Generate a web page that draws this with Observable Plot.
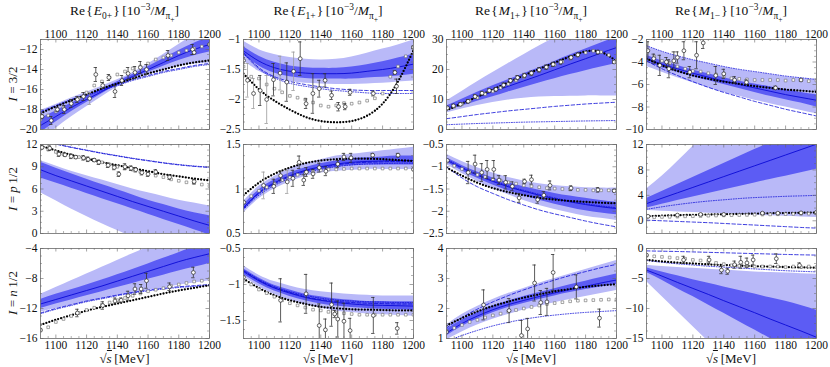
<!DOCTYPE html>
<html><head><meta charset="utf-8">
<script src="https://cdn.jsdelivr.net/npm/d3@7"></script>
<script src="https://cdn.jsdelivr.net/npm/@observablehq/plot@0.6"></script>
<style>
body{margin:0;background:#fff;}
#chart{position:relative;width:830px;height:367px;font-family:"Liberation Serif","Times New Roman","DejaVu Serif",serif;color:#111;overflow:hidden;}
#chart svg text{font-family:"Liberation Serif","Times New Roman","DejaVu Serif",serif !important;}
.pan{position:absolute;}
.ttl{position:absolute;top:3px;font-size:13.5px;white-space:nowrap;transform:translateX(-50%);}
.rl{position:absolute;font-size:13px;white-space:nowrap;transform:translate(-50%,-50%) rotate(-90deg);}
.xl{position:absolute;top:351px;font-size:13px;transform:translateX(-50%);white-space:nowrap;}
sub,sup{font-size:70%;line-height:0;}
</style></head><body><div id="chart"></div><script>
// ---------- shared axes ----------
const X = [1090,1100,1110,1120,1130,1140,1150,1160,1170,1180,1190,1200];
const SQX = [1090,1095,1100,1105,1110,1115,1120,1125,1130,1135,1140,1145,1150,1155,1160,1165,1170,1175,1180,1185,1190,1195,1200];
const XT = [1100,1120,1140,1160,1180,1200];
const MINX = [1095,1105,1110,1115,1125,1130,1135,1145,1150,1155,1165,1170,1175,1185,1190,1195];
const TITLES = ["E","E","M","M"];
const TSUB = ["0+","1+","1+","1−"];
const ROWLAB = ["3/2","p 1/2","n 1/2"];

// ---------- P11: E0+, I=3/2 ----------
const P11_mid = [-19.6,-18.7,-17.8,-17.0,-16.2,-15.4,-14.7,-14.0,-13.3,-12.6,-12.0,-11.5];
const P11_dlo = [-20.3,-19.25,-18.22,-17.3,-16.42,-15.58,-14.9,-14.28,-13.68,-13.1,-12.62,-12.25];
const P11_dhi = [-18.9,-18.15,-17.38,-16.7,-15.98,-15.22,-14.5,-13.72,-12.92,-12.1,-11.38,-10.75];
const P11_llo = [-21.1,-19.9,-18.75,-17.72,-16.72,-15.78,-15.08,-14.55,-14.1,-13.7,-13.45,-13.35];
const P11_lhi = [-18.1,-17.5,-16.85,-16.28,-15.68,-15.02,-14.32,-13.45,-12.5,-11.5,-10.55,-9.65];
const P11_dash = [-18.2,-17.6,-17.0,-16.5,-16.0,-15.5,-15.0,-14.6,-14.2,-13.9,-13.6,-13.4];
const P11_dot = [-18.3,-17.7,-17.1,-16.6,-16.1,-15.6,-15.1,-14.7,-14.3,-14.0,-13.7,-13.5];
const P11_blk = [-18.4,-17.7,-17.1,-16.5,-15.9,-15.4,-14.9,-14.4,-14.0,-13.6,-13.3,-13.1];
const P11_sq = [-19.0,-18.6,-18.2,-17.8,-17.4,-16.9,-16.3,-15.6,-15.2,-14.8,-14.5,-14.2,-13.9,-13.7,-13.4,-13.0,-12.8,-12.6,-12.3,-12.1,-11.9,-11.7,-11.5];
const P11_cx = [1091,1097,1101,1105.5,1110,1114,1118,1122,1126,1130.5,1134.5,1138.5,1143,1147,1151.5,1155,1159,1173,1189,1190,1200];
const P11_cy = [-18.7,-19.1,-18.0,-18.0,-17.4,-17.0,-16.7,-16.9,-14.5,-15.6,-14.8,-16.2,-15.1,-14.4,-14.3,-13.8,-14.0,-12.6,-12.0,-12.3,-11.5];
const P11_ce = [0.2,0.4,0.2,0.4,0.4,0.3,0.4,0.6,0.7,0.3,0.3,0.6,0.5,0.6,0.6,0.6,0.5,0.5,0.5,0.2,0];
const P11_cg = [0,0,0,0,0,0,0,1,0,0,0,0,0,0,0,0,0,0,0,0,0];

// ---------- P12: E1+, I=3/2 ----------
const P12_mid = [-1.19,-1.36,-1.47,-1.53,-1.56,-1.57,-1.57,-1.56,-1.53,-1.50,-1.46,-1.41];
const P12_dlo = [-1.26,-1.44,-1.56,-1.62,-1.65,-1.66,-1.66,-1.66,-1.64,-1.63,-1.61,-1.58];
const P12_dhi = [-1.12,-1.28,-1.38,-1.44,-1.47,-1.48,-1.48,-1.46,-1.42,-1.37,-1.31,-1.24];
const P12_llo = [-1.36,-1.53,-1.64,-1.70,-1.73,-1.74,-1.75,-1.75,-1.74,-1.73,-1.71,-1.69];
const P12_lhi = [-1.03,-1.17,-1.25,-1.30,-1.33,-1.34,-1.33,-1.29,-1.23,-1.16,-1.09,-1.01];
const P12_dash = [-1.22,-1.47,-1.62,-1.70,-1.75,-1.79,-1.82,-1.84,-1.85,-1.85,-1.85,-1.85];
const P12_dot = [-1.23,-1.49,-1.64,-1.73,-1.78,-1.82,-1.85,-1.87,-1.89,-1.90,-1.90,-1.90];
const P12_blk = [-1.57,-1.83,-2.02,-2.17,-2.29,-2.36,-2.38,-2.36,-2.27,-2.07,-1.70,-1.18];
const P12_sq = [-1.45,-1.62,-1.65,-1.75,-1.82,-1.88,-1.94,-1.97,-2.00,-2.05,-2.10,-2.12,-2.10,-2.06,-2.07,-2.05,-2.02,-1.98,-1.90,-1.62,-1.45,-1.28,-1.15];
const P12_cx = [1090,1092.6,1096.5,1100.8,1105,1109.4,1113.7,1118,1122.4,1126.7,1130.5,1134.9,1139,1142.8,1147,1151.5,1155.8,1159,1174,1188,1189,1200];
const P12_cy = [-1.35,-1.68,-1.9,-1.85,-2.0,-1.67,-1.56,-1.71,-1.53,-1.32,-2.07,-1.9,-1.82,-1.68,-1.93,-2.12,-2.12,-1.88,-1.9,-1.55,-1.78,-1.13];
const P12_ce = [0.05,0.28,0.25,0.25,0.4,0.27,0.28,0.32,0.32,0.28,0.08,0.33,0.14,0.11,0.07,0.07,0.05,0.05,0.04,0.03,0.12,0.02];
const P12_cg = [0,1,1,0,1,0,1,0,1,0,0,0,0,0,0,0,0,0,0,0,0,0];

// ---------- P13: M1+, I=3/2 ----------
const P13_mid = [7.0,8.9,10.8,12.6,14.4,16.2,18.0,19.9,21.8,23.6,25.5,27.3];
const P13_dlo = [6.3,7.8,9.4,10.9,12.5,14.0,15.5,16.9,18.3,19.6,20.8,22.0];
const P13_dhi = [7.8,10.1,12.4,14.6,16.6,18.6,20.6,22.7,24.8,26.8,28.8,30.8];
const P13_llo = [5.5,6.8,8.0,9.0,9.8,10.4,10.8,11.0,11.1,11.2,11.2,11.2];
const P13_lhi = [9.5,12.7,15.9,19.0,22.0,24.9,27.8,30.6,33.4,36.2,39.0,41.8];
const P13_dash = [3.6,4.3,5.0,5.6,6.2,6.7,7.2,7.7,8.1,8.5,8.8,9.1];
const P13_dot = [1.6,1.8,2.0,2.15,2.3,2.45,2.55,2.65,2.75,2.85,2.92,3.0];
const P13_blk = [6.4,8.6,10.9,13.3,15.7,18.0,20.2,22.3,24.3,26.0,25.8,22.8];
const P13_sq = [6.8,7.6,8.5,9.6,10.6,11.8,12.7,13.9,15.2,16.4,17.5,18.5,19.6,20.6,21.6,22.6,23.6,24.6,25.6,26.2,25.8,24.8,23.0];
const P13_cx = [1090.6,1094.5,1099,1104,1108.5,1113,1117.7,1122,1127,1131.4,1136,1140.5,1145,1150,1154.6,1159,1164,1170.6,1175,1188,1198.5];
const P13_cy = [7.2,7.9,8.4,9.4,11.0,12.1,13.0,13.4,14.8,16.3,17.3,18.0,18.8,19.9,20.8,21.7,22.5,24.0,24.9,25.8,22.5];
const P13_ce = [0.5,0.5,0.5,0.6,0.6,0.6,0.6,0.6,0.7,0.7,0.7,0.7,0.7,0.7,0.7,0.7,0.7,0.6,0.6,0.6,0.5];

// ---------- P14: M1-, I=3/2 ----------
const P14_mid = [-3.7,-4.2,-4.6,-5.0,-5.35,-5.7,-6.0,-6.3,-6.6,-6.9,-7.15,-7.4];
const P14_dlo = [-4.0,-4.5,-4.9,-5.3,-5.65,-6.0,-6.35,-6.7,-7.05,-7.35,-7.65,-8.0];
const P14_dhi = [-3.4,-3.9,-4.3,-4.7,-5.05,-5.4,-5.7,-5.95,-6.2,-6.45,-6.7,-6.9];
const P14_llo = [-4.4,-4.9,-5.4,-5.85,-6.3,-6.7,-7.05,-7.4,-7.7,-8.0,-8.3,-8.6];
const P14_lhi = [-2.6,-3.1,-3.5,-3.85,-4.15,-4.45,-4.7,-4.9,-5.1,-5.3,-5.45,-5.6];
const P14_dash = [-3.9,-4.6,-5.2,-5.75,-6.25,-6.7,-7.1,-7.5,-7.85,-8.2,-8.5,-8.8];
const P14_dot = [-2.55,-3.05,-3.45,-3.8,-4.1,-4.4,-4.65,-4.85,-5.05,-5.25,-5.4,-5.55];
const P14_blk = [-3.7,-4.3,-4.8,-5.2,-5.5,-5.75,-5.95,-6.15,-6.3,-6.45,-6.55,-6.65];
const P14_sq = [-3.2,-3.5,-3.9,-4.1,-4.4,-4.6,-4.8,-4.85,-5.0,-5.1,-5.3,-5.45,-5.5,-5.55,-5.6,-5.6,-5.6,-5.6,-5.65,-5.6,-5.6,-5.7,-5.65];
const P14_cx = [1090.9,1094.7,1098.6,1102.9,1104.5,1107.7,1110,1114.2,1118,1122.4,1126.7,1134.8,1140,1147,1154.7,1173.5,1190];
const P14_cy = [-3.0,-3.7,-4.3,-4.0,-4.6,-3.9,-3.6,-3.0,-4.9,-3.4,-2.3,-5.2,-5.05,-5.6,-5.8,-6.3,-5.6];
const P14_ce = [0.8,0.4,0.9,0.4,0.8,0.8,0.5,0.8,0.5,1.2,0.5,0.8,0.4,0.3,0.2,0.15,0.1];

// ---------- P21: E0+, I=p1/2 ----------
const P21_mid = [8.6,7.8,7.1,6.4,5.7,5.0,4.3,3.65,3.0,2.35,1.7,1.1];
const P21_dlo = [7.5,6.8,6.1,5.4,4.7,4.0,3.3,2.6,1.9,1.2,0.5,-0.2];
const P21_dhi = [9.6,8.8,8.05,7.3,6.6,5.9,5.2,4.5,3.9,3.3,2.8,2.4];
const P21_llo = [5.5,4.4,3.3,2.3,1.3,0.4,-0.5,-1.3,-2.1,-2.9,-3.7,-4.5];
const P21_lhi = [9.8,9.1,8.4,7.8,7.2,6.6,6.0,5.5,5.0,4.5,4.1,3.7];
const P21_dash = [12.5,12.05,11.6,11.2,10.8,10.45,10.1,9.8,9.5,9.25,9.05,8.9];
const P21_dot = [12.6,12.1,11.65,11.25,10.85,10.5,10.15,9.85,9.55,9.3,9.1,8.95];
const P21_blk = [11.8,11.2,10.6,10.1,9.6,9.2,8.8,8.4,8.0,7.7,7.4,7.15];
const P21_sq = [11.6,11.3,11.0,10.7,10.5,10.3,10.1,9.9,9.6,9.3,9.0,8.8,8.6,8.3,8.1,7.8,7.6,7.3,7.1,6.9,6.8,6.6,6.4];
const P21_cx = [1091,1096,1102,1106,1110,1113,1118,1121,1125,1128,1134,1138,1141,1145,1149,1152,1156,1160,1165,1174,1190];
const P21_cy = [11.6,11.5,10.7,10.6,10.4,10.3,10.2,10.0,9.9,9.6,9.2,8.9,8.0,9.0,8.8,8.6,8.2,8.0,8.3,7.6,7.0];
const P21_ce = [0.2,0.3,0.3,0.2,0.3,0.2,0.3,0.3,0.2,0.3,0.3,0.3,0.3,0.4,0.3,0.3,0.3,0.3,0.3,0.3,0.3];

// ---------- P22: E1+, I=p1/2 ----------
const P22_mid = [0.79,0.96,1.07,1.15,1.21,1.25,1.28,1.30,1.31,1.315,1.32,1.32];
const P22_dlo = [0.76,0.93,1.04,1.12,1.18,1.215,1.245,1.26,1.27,1.27,1.27,1.27];
const P22_dhi = [0.82,0.99,1.10,1.18,1.24,1.285,1.315,1.34,1.35,1.36,1.37,1.37];
const P22_llo = [0.73,0.89,1.0,1.08,1.14,1.18,1.2,1.21,1.22,1.22,1.22,1.22];
const P22_lhi = [0.86,1.03,1.14,1.23,1.29,1.33,1.37,1.39,1.41,1.43,1.45,1.47];
const P22_dash = [0.78,0.95,1.06,1.14,1.2,1.24,1.27,1.29,1.3,1.305,1.31,1.31];
const P22_dot = [0.77,0.93,1.04,1.12,1.18,1.22,1.25,1.27,1.28,1.285,1.29,1.29];
const P22_blk = [0.93,1.07,1.17,1.24,1.29,1.32,1.335,1.34,1.34,1.335,1.325,1.315];
const P22_sq = [0.85,0.92,0.98,1.02,1.06,1.1,1.13,1.16,1.18,1.2,1.21,1.22,1.22,1.225,1.23,1.23,1.23,1.23,1.23,1.23,1.23,1.23,1.22];
const P22_cx = [1090.2,1103,1109.6,1114,1118.3,1122,1126,1129,1130.7,1135,1139,1143.3,1151,1155,1159.6,1173.6,1190,1200];
const P22_cy = [0.85,1.04,1.03,1.15,1.08,1.12,1.3,1.1,1.19,1.17,1.24,1.2,1.28,1.36,1.35,1.38,1.38,1.22];
const P22_ce = [0,0.15,0.08,0.05,0.13,0.09,0.07,0.06,0.05,0.05,0.05,0.05,0.04,0.04,0.05,0.02,0.02,0];
const P22_cg = [0,1,0,0,1,0,0,0,0,0,0,0,0,0,0,0,0,0];

// ---------- P23: M1+, I=p1/2 ----------
const P23_mid = [-0.85,-1.03,-1.19,-1.33,-1.45,-1.55,-1.64,-1.72,-1.79,-1.85,-1.90,-1.94];
const P23_dlo = [-0.9,-1.09,-1.26,-1.41,-1.54,-1.65,-1.75,-1.84,-1.92,-1.99,-2.04,-2.08];
const P23_dhi = [-0.8,-0.97,-1.12,-1.25,-1.36,-1.45,-1.53,-1.6,-1.66,-1.71,-1.76,-1.8];
const P23_llo = [-0.95,-1.15,-1.33,-1.49,-1.63,-1.76,-1.87,-1.96,-2.04,-2.11,-2.16,-2.21];
const P23_lhi = [-0.72,-0.88,-1.02,-1.14,-1.24,-1.32,-1.38,-1.42,-1.45,-1.47,-1.48,-1.48];
const P23_dash = [-1.0,-1.25,-1.45,-1.6,-1.74,-1.86,-1.97,-2.06,-2.14,-2.22,-2.29,-2.35];
const P23_dot = [-0.83,-1.01,-1.17,-1.31,-1.43,-1.53,-1.62,-1.7,-1.77,-1.83,-1.88,-1.92];
const P23_blk = [-1.02,-1.2,-1.36,-1.48,-1.57,-1.64,-1.7,-1.74,-1.77,-1.79,-1.81,-1.82];
const P23_sq = [-0.9,-0.98,-1.05,-1.12,-1.18,-1.23,-1.28,-1.31,-1.35,-1.38,-1.42,-1.44,-1.46,-1.48,-1.49,-1.5,-1.51,-1.52,-1.52,-1.53,-1.53,-1.53,-1.53];
const P23_cx = [1090.6,1104,1108.5,1112.8,1116.3,1120.6,1124,1128.3,1132.6,1137,1140.5,1145,1149,1153,1157,1170.6,1188,1198.5];
const P23_cy = [-0.86,-1.13,-0.94,-1.13,-1.06,-1.06,-1.3,-1.35,-1.44,-1.7,-1.33,-1.29,-1.74,-1.64,-1.42,-1.48,-1.52,-1.54];
const P23_ce = [0.02,0.25,0.2,0.2,0.2,0.2,0.1,0.15,0.1,0.1,0.05,0.1,0.08,0.08,0.1,0.05,0.05,0.02];

// ---------- P24: M1-, I=p1/2 ----------
const P24_mid = [2.7,3.55,4.4,5.25,6.1,6.95,7.8,8.65,9.5,10.35,11.2,12.05];
const P24_dlo = [2.0,2.6,3.2,3.75,4.3,4.85,5.4,5.95,6.5,7.0,7.55,8.1];
const P24_dhi = [3.5,4.6,5.7,6.8,7.9,9.0,10.1,11.2,12.3,13.4,14.5,15.6];
const P24_llo = [1.6,1.5,1.4,1.3,1.2,1.1,1.0,0.9,0.8,0.7,0.6,0.5];
const P24_lhi = [5.0,7.0,9.3,11.7,14.1,16.5,18.9,21.3,23.7,26.1,28.5,30.9];
const P24_dash = [0.1,0.0,-0.1,-0.2,-0.3,-0.42,-0.55,-0.67,-0.8,-0.92,-1.05,-1.15];
const P24_dot = [1.8,2.2,2.55,2.85,3.1,3.3,3.5,3.65,3.75,3.85,3.92,4.0];
const P24_blk = [0.7,0.8,0.87,0.93,0.98,1.03,1.08,1.13,1.18,1.22,1.26,1.3];
const P24_sq = [0.5,0.55,0.6,0.62,0.65,0.7,0.72,0.75,0.8,0.82,0.85,0.88,0.9,0.92,0.95,0.98,1.0,1.02,1.05,1.08,1.1,1.12,1.15];
const P24_cx = [1091,1110,1125,1140,1165,1175,1190,1200];
const P24_cy = [0.7,0.9,1.0,1.0,1.2,1.2,1.25,1.35];
const P24_ce = [0.1,0.1,0.1,0.1,0.1,0.1,0.1,0.1];

// ---------- P31: E0+, I=n1/2 ----------
const P31_mid = [-11.4,-10.8,-10.2,-9.6,-9.0,-8.35,-7.7,-7.05,-6.4,-5.75,-5.2,-4.7];
const P31_dlo = [-12.0,-11.4,-10.85,-10.3,-9.75,-9.2,-8.65,-8.1,-7.55,-7.0,-6.5,-6.0];
const P31_dhi = [-10.8,-10.1,-9.5,-8.85,-8.2,-7.5,-6.8,-6.05,-5.3,-4.55,-3.8,-3.1];
const P31_llo = [-12.5,-12.0,-11.55,-11.1,-10.7,-10.3,-9.95,-9.6,-9.25,-8.9,-8.6,-8.3];
const P31_lhi = [-10.1,-9.2,-8.3,-7.4,-6.5,-5.6,-4.7,-3.8,-2.9,-2.0,-1.1,-0.2];
const P31_dash = [-12.6,-12.0,-11.5,-11.0,-10.6,-10.2,-9.85,-9.55,-9.3,-9.1,-8.95,-8.8];
const P31_dot = [-12.7,-12.1,-11.6,-11.1,-10.7,-10.3,-9.95,-9.65,-9.4,-9.2,-9.05,-8.9];
const P31_blk = [-14.2,-13.5,-12.9,-12.3,-11.8,-11.35,-10.9,-10.45,-10.0,-9.6,-9.25,-8.9];
const P31_sq = [-14.8,-14.5,-13.8,-13.4,-13.0,-12.6,-12.2,-11.9,-11.5,-11.2,-10.9,-10.6,-10.3,-10.0,-9.7,-9.5,-9.3,-9.0,-8.8,-8.6,-8.4,-8.3,-8.1];
const P31_cx = [1090,1114,1130.5,1138.5,1142.5,1147,1151.5,1155.5,1159,1174,1189.5];
const P31_cy = [-14.9,-12.6,-11.6,-11.0,-10.9,-10.3,-9.4,-9.4,-8.3,-9.1,-7.2];
const P31_ce = [0,0.5,0.5,0.4,0.3,0.6,0.7,0.6,1.0,0.5,0.7];

// ---------- P32: E1+, I=n1/2 ----------
const P32_mid = [-0.82,-0.95,-1.05,-1.12,-1.18,-1.22,-1.25,-1.27,-1.285,-1.29,-1.295,-1.3];
const P32_dlo = [-0.86,-0.99,-1.09,-1.165,-1.225,-1.27,-1.3,-1.32,-1.335,-1.345,-1.35,-1.36];
const P32_dhi = [-0.78,-0.91,-1.01,-1.075,-1.135,-1.17,-1.2,-1.22,-1.235,-1.235,-1.24,-1.24];
const P32_llo = [-0.89,-1.03,-1.14,-1.22,-1.28,-1.33,-1.37,-1.39,-1.41,-1.42,-1.43,-1.44];
const P32_lhi = [-0.74,-0.87,-0.96,-1.02,-1.07,-1.1,-1.12,-1.14,-1.15,-1.16,-1.16,-1.16];
const P32_dash = [-0.81,-0.94,-1.04,-1.11,-1.17,-1.21,-1.235,-1.25,-1.26,-1.265,-1.27,-1.27];
const P32_dot = [-0.8,-0.93,-1.03,-1.1,-1.15,-1.19,-1.215,-1.23,-1.24,-1.245,-1.25,-1.25];
const P32_blk = [-0.92,-1.05,-1.15,-1.22,-1.27,-1.31,-1.33,-1.345,-1.35,-1.355,-1.36,-1.36];
const P32_sq = [-0.95,-1.0,-1.07,-1.12,-1.17,-1.22,-1.26,-1.29,-1.32,-1.35,-1.36,-1.38,-1.39,-1.4,-1.41,-1.42,-1.42,-1.42,-1.42,-1.42,-1.42,-1.42,-1.42];
const P32_cx = [1090,1114,1130.5,1139,1143,1147,1149,1151,1155,1159,1174,1189.5];
const P32_cy = [-0.9,-1.22,-1.13,-1.57,-1.63,-1.28,-1.41,-1.48,-1.51,-1.64,-1.43,-1.61];
const P32_ce = [0,0.3,0.27,0.3,0.15,0.3,0.05,0.25,0.25,0.17,0.25,0.08];

// ---------- P33: M1+, I=n1/2 ----------
const P33_mid = [1.18,1.5,1.75,1.96,2.13,2.27,2.4,2.52,2.63,2.74,2.85,2.95];
const P33_dlo = [1.08,1.4,1.65,1.86,2.03,2.17,2.3,2.42,2.53,2.63,2.72,2.8];
const P33_dhi = [1.3,1.62,1.87,2.08,2.25,2.4,2.53,2.66,2.79,2.91,3.03,3.15];
const P33_llo = [0.95,1.22,1.45,1.64,1.8,1.95,2.07,2.19,2.3,2.4,2.5,2.6];
const P33_lhi = [1.45,1.8,2.07,2.3,2.5,2.67,2.84,3.0,3.15,3.3,3.45,3.6];
const P33_dash = [1.35,1.7,1.98,2.22,2.43,2.62,2.79,2.95,3.1,3.23,3.36,3.47];
const P33_dot = [0.9,1.1,1.27,1.42,1.54,1.64,1.72,1.78,1.83,1.87,1.9,1.93];
const P33_blk = [1.43,1.68,1.9,2.08,2.23,2.36,2.47,2.57,2.65,2.72,2.77,2.81];
const P33_sq = [1.25,1.35,1.45,1.55,1.62,1.7,1.77,1.83,1.9,1.95,2.0,2.05,2.1,2.15,2.18,2.21,2.24,2.26,2.27,2.28,2.29,2.3,2.3];
const P33_cx = [1090,1114,1130.5,1138.5,1142.5,1147,1151,1155,1159,1174,1189];
const P33_cy = [1.22,2.12,1.93,1.1,1.32,2.85,2.2,2.22,3.2,2.72,1.68];
const P33_ce = [0,0.5,0.4,0.5,0.35,0.6,0.4,0.45,0.6,0.4,0.3];

// ---------- P34: M1-, I=n1/2 ----------
const P34_mid = [-3.6,-4.6,-5.65,-6.65,-7.65,-8.7,-9.7,-10.7,-11.75,-12.75,-13.75,-14.8];
const P34_dlo = [-4.0,-5.3,-6.7,-8.0,-9.4,-10.8,-12.2,-13.6,-15.0,-16.4,-17.8,-19.2];
const P34_dhi = [-3.2,-3.9,-4.55,-5.2,-5.8,-6.4,-7.0,-7.6,-8.2,-8.8,-9.5,-10.3];
const P34_llo = [-5.5,-8.0,-10.5,-13.0,-15.5,-18.0,-20.5,-23.0,-25.5,-28.0,-30.5,-33.0];
const P34_lhi = [-2.8,-3.0,-3.15,-3.3,-3.45,-3.6,-3.75,-3.9,-4.0,-4.1,-4.2,-4.3];
const P34_dash = [-0.4,-0.45,-0.5,-0.57,-0.64,-0.71,-0.78,-0.85,-0.92,-0.99,-1.05,-1.1];
const P34_dot = [-2.0,-2.3,-2.55,-2.75,-2.95,-3.1,-3.25,-3.4,-3.55,-3.7,-3.8,-3.9];
const P34_blk = [-1.9,-2.15,-2.35,-2.5,-2.65,-2.75,-2.85,-2.95,-3.02,-3.1,-3.15,-3.2];
const P34_sq = [-1.2,-1.3,-1.4,-1.5,-1.6,-1.7,-1.9,-2.0,-2.2,-2.4,-2.6,-2.8,-2.9,-2.9,-3.0,-3.0,-3.0,-3.0,-3.1,-3.0,-3.1,-3.0,-3.1];
const P34_cx = [1090,1114,1130.5,1138.5,1142.5,1147,1151,1155,1159,1174,1189];
const P34_cy = [-1.1,-1.9,-1.9,-3.6,-3.8,-2.7,-2.3,-2.4,-1.9,-1.7,-2.8];
const P34_ce = [0,0.6,0.6,0.6,0.5,0.6,1.0,0.8,0.8,0.8,0.4];

// ---------- panel table ----------
const PANELS = [
 {c:0,r:0,yd:[-20,-11],yt:[-20,-18,-16,-14,-12],ym:0.5,v:[P11_mid,P11_dlo,P11_dhi,P11_llo,P11_lhi,P11_dash,P11_dot,P11_blk],sq:P11_sq,cx:P11_cx,cy:P11_cy,ce:P11_ce,cg:P11_cg},
 {c:1,r:0,yd:[-2.5,-1],yt:[-2.5,-2,-1.5,-1],ym:0.125,v:[P12_mid,P12_dlo,P12_dhi,P12_llo,P12_lhi,P12_dash,P12_dot,P12_blk],sq:P12_sq,cx:P12_cx,cy:P12_cy,ce:P12_ce,cg:P12_cg},
 {c:2,r:0,yd:[0,30],yt:[0,10,20,30],ym:2.5,v:[P13_mid,P13_dlo,P13_dhi,P13_llo,P13_lhi,P13_dash,P13_dot,P13_blk],sq:P13_sq,cx:P13_cx,cy:P13_cy,ce:P13_ce},
 {c:3,r:0,yd:[-10,-2],yt:[-10,-8,-6,-4,-2],ym:0.5,v:[P14_mid,P14_dlo,P14_dhi,P14_llo,P14_lhi,P14_dash,P14_dot,P14_blk],sq:P14_sq,cx:P14_cx,cy:P14_cy,ce:P14_ce},
 {c:0,r:1,yd:[0,12],yt:[0,3,6,9,12],ym:0.75,v:[P21_mid,P21_dlo,P21_dhi,P21_llo,P21_lhi,P21_dash,P21_dot,P21_blk],sq:P21_sq,cx:P21_cx,cy:P21_cy,ce:P21_ce},
 {c:1,r:1,yd:[0.5,1.5],yt:[0.5,1,1.5],ym:0.125,v:[P22_mid,P22_dlo,P22_dhi,P22_llo,P22_lhi,P22_dash,P22_dot,P22_blk],sq:P22_sq,cx:P22_cx,cy:P22_cy,ce:P22_ce,cg:P22_cg},
 {c:2,r:1,yd:[-2.5,-0.5],yt:[-2.5,-2,-1.5,-1,-0.5],ym:0.125,v:[P23_mid,P23_dlo,P23_dhi,P23_llo,P23_lhi,P23_dash,P23_dot,P23_blk],sq:P23_sq,cx:P23_cx,cy:P23_cy,ce:P23_ce},
 {c:3,r:1,yd:[-2,12],yt:[0,4,8,12],ym:1,v:[P24_mid,P24_dlo,P24_dhi,P24_llo,P24_lhi,P24_dash,P24_dot,P24_blk],sq:P24_sq,cx:P24_cx,cy:P24_cy,ce:P24_ce},
 {c:0,r:2,yd:[-16,-4],yt:[-16,-12,-8,-4],ym:1,v:[P31_mid,P31_dlo,P31_dhi,P31_llo,P31_lhi,P31_dash,P31_dot,P31_blk],sq:P31_sq,cx:P31_cx,cy:P31_cy,ce:P31_ce},
 {c:1,r:2,yd:[-1.75,-0.5],yt:[-1.5,-1,-0.5],ym:0.125,v:[P32_mid,P32_dlo,P32_dhi,P32_llo,P32_lhi,P32_dash,P32_dot,P32_blk],sq:P32_sq,cx:P32_cx,cy:P32_cy,ce:P32_ce},
 {c:2,r:2,yd:[1,4],yt:[1,2,3,4],ym:0.25,v:[P33_mid,P33_dlo,P33_dhi,P33_llo,P33_lhi,P33_dash,P33_dot,P33_blk],sq:P33_sq,cx:P33_cx,cy:P33_cy,ce:P33_ce},
 {c:3,r:2,yd:[-15,0],yt:[-15,-10,-5,0],ym:1.25,v:[P34_mid,P34_dlo,P34_dhi,P34_llo,P34_lhi,P34_dash,P34_dot,P34_blk],sq:P34_sq,cx:P34_cx,cy:P34_cy,ce:P34_ce}
];

// ---------- layout / style ----------
const COLL = [40,243,446,646], COLW = [169,170,170,170];
const ROWT = [39,144,248], ROWH = [90,89,90];
const ML = 40, MR = 8, MT = 16, MB = 16;
const LIGHT = "#b9b9f8", DARK = "#5c5cf4", BLUE = "#0a0ad6";
const TICKC = "#666", FRAMEC = "#7a7a7a";
const FONT = "Liberation Serif";
const fmt = d => (d < 0 ? "\u2212" : "") + Math.abs(d);

const chart = document.getElementById("chart");

for (const p of PANELS) {
  const fw = COLW[p.c], fh = ROWH[p.r];
  const rows = X.map((x, i) => ({x, mid:p.v[0][i], dlo:p.v[1][i], dhi:p.v[2][i], llo:p.v[3][i], lhi:p.v[4][i], dash:p.v[5][i], dot:p.v[6][i], blk:p.v[7][i]}));
  const sq = SQX.map((x, i) => ({x, y:p.sq[i]}));
  const circ = p.cx.map((x, i) => ({x, y:p.cy[i], e:p.ce[i], g:p.cg ? p.cg[i] : 0}));
  const bars = circ.filter(d => d.e > 0);
  const ymin = d3.range(Math.ceil(p.yd[0]/p.ym)*p.ym, p.yd[1]+1e-9, p.ym)
    .filter(t => !p.yt.some(m => Math.abs(m - t) < 1e-9));
  const barColor = d => d.g ? "#9a9a9a" : "#333";
  const marks = [
    Plot.areaY(rows, {x:"x", y1:"llo", y2:"lhi", fill:LIGHT, curve:"natural", clip:true}),
    Plot.areaY(rows, {x:"x", y1:"dlo", y2:"dhi", fill:DARK, curve:"natural", clip:true}),
    Plot.lineY(rows, {x:"x", y:"dot", stroke:BLUE, strokeWidth:0.8, strokeDasharray:"0.9,1.6", curve:"natural", clip:true}),
    Plot.lineY(rows, {x:"x", y:"dash", stroke:BLUE, strokeWidth:0.8, strokeDasharray:"3.5,2.2", curve:"natural", clip:true}),
    Plot.lineY(rows, {x:"x", y:"mid", stroke:BLUE, strokeWidth:0.9, curve:"natural", clip:true}),
    Plot.lineY(rows, {x:"x", y:"blk", stroke:"#000", strokeWidth:2.3, strokeDasharray:"0,3.1", strokeLinecap:"round", curve:"natural", clip:true}),
    Plot.dot(sq, {x:"x", y:"y", symbol:"square", r:1.5, stroke:"#6a6a6a", fill:"white", strokeWidth:0.6, clip:true}),
    Plot.ruleX(bars, {x:"x", y1:d => d.y - d.e, y2:d => d.y + d.e, stroke:barColor, strokeWidth:0.8, clip:true}),
    Plot.ruleY(bars, {y:d => d.y + d.e, x1:d => d.x - 1.1, x2:d => d.x + 1.1, stroke:barColor, strokeWidth:0.8, clip:true}),
    Plot.ruleY(bars, {y:d => d.y - d.e, x1:d => d.x - 1.1, x2:d => d.x + 1.1, stroke:barColor, strokeWidth:0.8, clip:true}),
    Plot.dot(circ, {x:"x", y:"y", r:1.9, stroke:"#222", fill:"white", strokeWidth:0.7, clip:true}),
    Plot.frame({stroke:FRAMEC, strokeWidth:0.9}),
    Plot.tickX(XT, {x:d => d, insetTop:fh - 3.5, stroke:TICKC, strokeWidth:0.6}),
    Plot.tickX(XT, {x:d => d, insetBottom:fh - 3.5, stroke:TICKC, strokeWidth:0.6}),
    Plot.tickX(MINX, {x:d => d, insetTop:fh - 2, stroke:TICKC, strokeWidth:0.5}),
    Plot.tickX(MINX, {x:d => d, insetBottom:fh - 2, stroke:TICKC, strokeWidth:0.5}),
    Plot.tickY(p.yt, {y:d => d, insetRight:fw - 3.5, stroke:TICKC, strokeWidth:0.6}),
    Plot.tickY(p.yt, {y:d => d, insetLeft:fw - 3.5, stroke:TICKC, strokeWidth:0.6}),
    Plot.tickY(ymin, {y:d => d, insetRight:fw - 2, stroke:TICKC, strokeWidth:0.5}),
    Plot.tickY(ymin, {y:d => d, insetLeft:fw - 2, stroke:TICKC, strokeWidth:0.5}),
    Plot.axisY({anchor:"left", ticks:p.yt, tickSize:0, tickPadding:3, tickFormat:fmt, label:null, fontSize:11.5, fontFamily:FONT})
  ];
  if (p.r === 0) marks.push(Plot.axisX({anchor:"top", ticks:XT, tickSize:0, tickPadding:2, tickFormat:fmt, label:null, fontSize:11.5, fontFamily:FONT}));
  if (p.r === 2) marks.push(Plot.axisX({anchor:"bottom", ticks:XT, tickSize:0, tickPadding:2, tickFormat:fmt, label:null, fontSize:11.5, fontFamily:FONT}));
  const svg = Plot.plot({
    width: ML + fw + MR, height: MT + fh + MB,
    marginLeft: ML, marginRight: MR, marginTop: MT, marginBottom: MB,
    x: {domain:[1090,1200], axis:null},
    y: {domain:p.yd, axis:null},
    style: {fontFamily:FONT, fontSize:"11px", color:"#111", background:"none", overflow:"visible"},
    marks
  });
  svg.classList.add("pan");
  svg.style.left = (COLL[p.c] - ML) + "px";
  svg.style.top = (ROWT[p.r] - MT) + "px";
  svg.style.maxWidth = "none";
  chart.appendChild(svg);
}

// ---------- titles and labels ----------
for (let c = 0; c < 4; c++) {
  const t = document.createElement("div");
  t.className = "ttl";
  t.style.left = (COLL[c] + COLW[c] / 2) + "px";
  t.innerHTML = `Re&#8202;{&#8202;<i>${TITLES[c]}</i><sub>${TSUB[c]}</sub>&#8202;}&#8201;[10<sup>\u22123</sup>/<i>M</i><sub>\u03c0<sub style="font-size:80%">+</sub></sub>]`;
  chart.appendChild(t);
  const xl = document.createElement("div");
  xl.className = "xl";
  xl.style.left = (COLL[c] + COLW[c] / 2) + "px";
  xl.innerHTML = `\u221a<span style="border-top:0.8px solid #111"><i>s</i></span>&#8201;[MeV]`;
  chart.appendChild(xl);
}
for (let r = 0; r < 3; r++) {
  const l = document.createElement("div");
  l.className = "rl";
  l.style.left = "13px";
  l.style.top = (ROWT[r] + ROWH[r] / 2) + "px";
  const parts = ROWLAB[r].split(" ");
  l.innerHTML = `<i>I</i> = ` + (parts.length > 1 ? `<i>${parts[0]}</i>&#8201;${parts[1]}` : parts[0]);
  chart.appendChild(l);
}
</script></body></html>
